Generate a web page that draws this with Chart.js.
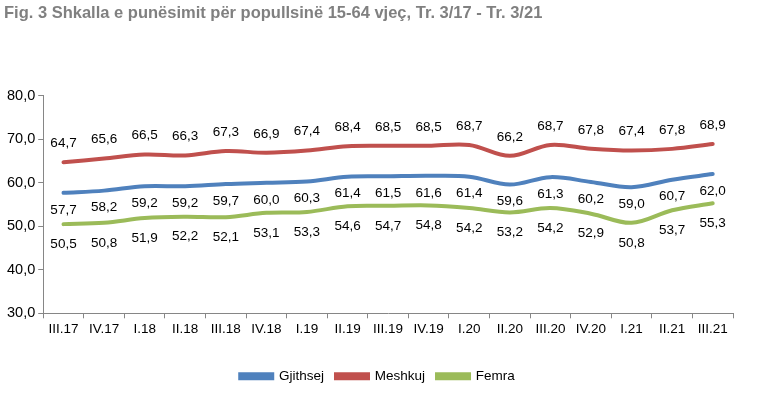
<!DOCTYPE html>
<html>
<head>
<meta charset="utf-8">
<script src="https://cdn.jsdelivr.net/npm/chart.js@4"></script>
<style>
  body { margin: 0; background: #fff; }
  #wrap { width: 764px; height: 393px; }
</style>
</head>
<body>
<div id="wrap"><canvas id="grafik" width="764" height="393"></canvas></div>
<script>
// Tremujorët
const tremujoret = ["III.17", "IV.17", "I.18", "II.18", "III.18", "IV.18", "I.19", "II.19", "III.19", "IV.19", "I.20", "II.20", "III.20", "IV.20", "I.21", "II.21", "III.21"];

// Shkalla e punësimit (%)
const gjithsej = [57.7, 58.2, 59.2, 59.2, 59.7, 60.0, 60.3, 61.4, 61.5, 61.6, 61.4, 59.6, 61.3, 60.2, 59.0, 60.7, 62.0];
const meshkuj = [64.7, 65.6, 66.5, 66.3, 67.3, 66.9, 67.4, 68.4, 68.5, 68.5, 68.7, 66.2, 68.7, 67.8, 67.4, 67.8, 68.9];
const femra = [50.5, 50.8, 51.9, 52.2, 52.1, 53.1, 53.3, 54.6, 54.7, 54.8, 54.2, 53.2, 54.2, 52.9, 50.8, 53.7, 55.3];

// Boshti Y
const yMin = 30, yMax = 80, yHapi = 10;

const ngjyraBoshti = "#868686";
const fonti = "'Liberation Sans', Arial, sans-serif";

function formato(v) {
    return v.toFixed(1).replace(".", ",");
}

// Etiketat e vlerave mbi/nën pikat
const etiketat = {
    id: "etiketat",
    afterLayout(chart) {
        // legjenda pak djathtas, si në origjinal
        chart.legend.left += 9;
        chart.legend.right += 9;
    },
    afterDatasetsDraw(chart) {
        const ctx = chart.ctx;
        ctx.save();
        ctx.font = "13.5px " + fonti;
        ctx.fillStyle = "#000";
        ctx.textAlign = "center";
        ctx.textBaseline = "middle";
        chart.data.datasets.forEach((ds, i) => {
            const meta = chart.getDatasetMeta(i);
            meta.data.forEach((pika, j) => {
                ctx.fillText(formato(ds.data[j]), pika.x, pika.y + ds.zhvendosje);
            });
        });
        ctx.restore();
    }
};

new Chart(document.getElementById("grafik"), {
    type: "line",
    data: {
        labels: tremujoret,
        datasets: [
            { label: "Gjithsej", data: gjithsej, borderColor: "#4F81BD", backgroundColor: "#4F81BD", zhvendosje: 17 },
            { label: "Meshkuj", data: meshkuj, borderColor: "#C0504D", backgroundColor: "#C0504D", zhvendosje: -19 },
            { label: "Femra", data: femra, borderColor: "#9BBB59", backgroundColor: "#9BBB59", zhvendosje: 20 }
        ]
    },
    options: {
        responsive: false,
        animation: false,
        layout: { padding: { left: 4, right: 31, top: 0, bottom: 0 } },
        elements: {
            line: { borderWidth: 4, tension: 0.35, borderCapStyle: "round" },
            point: { radius: 0, hoverRadius: 0 }
        },
        scales: {
            x: {
                offset: true,
                grid: { offset: true, drawOnChartArea: false, tickLength: 5, color: ngjyraBoshti },
                border: { color: ngjyraBoshti },
                ticks: { color: "#000", font: { family: fonti, size: 13.5 }, maxRotation: 0, autoSkip: false, padding: 3 },
                afterFit: s => { s.height += 17; }
            },
            y: {
                min: yMin,
                max: yMax,
                grid: { drawOnChartArea: false, tickLength: 5, color: ngjyraBoshti },
                border: { color: ngjyraBoshti },
                ticks: { stepSize: yHapi, color: "#000", font: { family: fonti, size: 14.5 }, padding: 3, callback: v => formato(v) }
            }
        },
        plugins: {
            title: {
                display: true,
                text: "Fig. 3 Shkalla e punësimit për popullsinë 15-64 vjeç, Tr. 3/17 - Tr. 3/21",
                align: "start",
                color: "#808080",
                font: { family: fonti, size: 16.5, weight: "bold" },
                padding: { top: 4, bottom: 72 }
            },
            legend: {
                position: "bottom",
                labels: {
                    boxWidth: 32,
                    boxHeight: 4,
                    color: "#000",
                    font: { family: fonti, size: 13.5 },
                    padding: 12
                }
            },
            tooltip: { enabled: false }
        }
    },
    plugins: [etiketat]
});
</script>
</body>
</html>
